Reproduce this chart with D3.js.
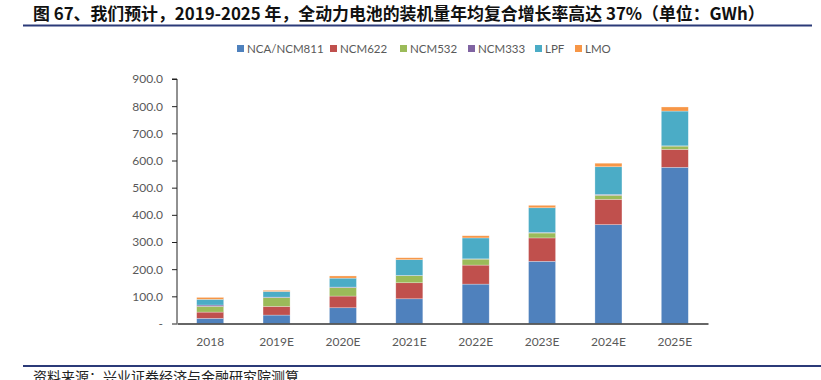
<!DOCTYPE html>
<html>
<head>
<meta charset="utf-8">
<script src="https://cdn.jsdelivr.net/npm/d3@7"></script>
<style>
  body { margin: 0; background: #fff; }
  svg { display: block; }
</style>
</head>
<body>
<script>
// data (GWh)
var years = ["2018", "2019E", "2020E", "2021E", "2022E", "2023E", "2024E", "2025E"];
var seriesNames = ["NCA/NCM811", "NCM622", "NCM532", "NCM333", "LPF", "LMO"];
var nca811 = [19, 31, 58, 91, 145, 229, 364, 575];
var ncm622 = [23, 32, 43, 59, 70, 86, 93, 66];
var ncm532 = [21, 32, 31, 26, 22, 18, 15, 12];
var ncm333 = [5, 2, 2, 1, 1, 2, 3, 1];
var lpf = [21, 21, 33, 58, 77, 91, 102, 128];
var lmo = [7, 4, 8, 7, 8, 9, 13, 15];
var yTicks = [0, 100, 200, 300, 400, 500, 600, 700, 800, 900];

var colors = ["#4f81bd", "#c0504d", "#9bbb59", "#8064a2", "#4bacc6", "#f79646"];
var seriesValues = [nca811, ncm622, ncm532, ncm333, lpf, lmo];

var width = 821,
    height = 380;

var svg = d3.select("body")
    .append("svg")
    .attr("width", width)
    .attr("height", height);

svg.append("rect")
    .attr("width", width)
    .attr("height", height)
    .attr("fill", "#fff");

// title + rule
var title = svg.append("text")
    .attr("x", 33)
    .attr("y", 20)
    .attr("font-family", "'Noto Sans CJK SC', sans-serif")
    .attr("font-weight", "bold")
    .attr("font-size", 16)
    .attr("fill", "#111")
    .text("图 67、我们预计，2019-2025 年，全动力电池的装机量年均复合增长率高达 37%（单位：GWh）");
// stretch the font so the title ends where the reference one does (~x=765)
var tw = title.node().getComputedTextLength();
title.attr("font-size", 16 * 732 / tw);

svg.append("line")
    .attr("x1", 23).attr("x2", 812)
    .attr("y1", 25.5).attr("y2", 25.5)
    .attr("stroke", "#2b3a78")
    .attr("stroke-width", 2);

// footer
svg.append("line")
    .attr("x1", 23).attr("x2", 821)
    .attr("y1", 366).attr("y2", 366)
    .attr("stroke", "#2b3a78")
    .attr("stroke-width", 2);

svg.append("text")
    .attr("x", 33)
    .attr("y", 382)
    .attr("font-family", "'Noto Sans CJK SC', sans-serif")
    .attr("font-size", 14)
    .attr("fill", "#222")
    .text("资料来源：兴业证券经济与金融研究院测算");

// scales
var x = d3.scaleBand()
    .domain(years)
    .range([177, 708])
    .paddingInner(0.593)
    .paddingOuter(0.2965);

var y = d3.scaleLinear()
    .domain([0, 900])
    .range([323.5, 79]);

// stacked data
var table = years.map(function (yr, i) {
    var row = { year: yr };
    seriesNames.forEach(function (s, j) { row[s] = seriesValues[j][i]; });
    return row;
});
var stacked = d3.stack().keys(seriesNames)(table);

var bars = svg.append("g");
bars.selectAll("g")
    .data(stacked)
    .enter().append("g")
    .attr("fill", function (d, i) { return colors[i]; })
    .selectAll("rect")
    .data(function (d) { return d; })
    .enter().append("rect")
    .attr("x", function (d) { return x(d.data.year); })
    .attr("width", x.bandwidth())
    .attr("y", function (d) { return y(d[1]); })
    .attr("height", function (d) { return y(d[0]) - y(d[1]); })
    .attr("stroke", "#fff")
    .attr("stroke-opacity", 0.45)
    .attr("stroke-width", 0.6);

// y axis
var yAxis = d3.axisLeft(y)
    .tickValues(yTicks)
    .tickSize(5)
    .tickPadding(9)
    .tickFormat(function (d) { return d === 0 ? "-" : d3.format(".1f")(d); });

var gy = svg.append("g")
    .attr("transform", "translate(177,0)")
    .call(yAxis);
gy.select(".domain").attr("stroke", "#222").attr("d", "M-5,79H0V323.5");
gy.selectAll(".tick line").attr("stroke", "#222");
gy.selectAll("text")
    .attr("font-family", "Lato, sans-serif")
    .attr("font-size", 12)
    .attr("fill", "#595959");

// x axis
var xAxis = d3.axisBottom(x).tickSize(0).tickPadding(14);
var gx = svg.append("g")
    .attr("transform", "translate(0,323.5)")
    .call(xAxis);
gx.select(".domain").attr("stroke", "#333").attr("stroke-width", 1.6);
gx.selectAll("text")
    .attr("font-family", "Lato, sans-serif")
    .attr("font-size", 12)
    .attr("fill", "#595959");

// legend, item offsets
var legendX = [0, 93, 163, 231, 298, 338];
var legend = svg.append("g").attr("transform", "translate(237,49)");
seriesNames.forEach(function (s, i) {
    var item = legend.append("g").attr("transform", "translate(" + legendX[i] + ",0)");
    item.append("rect")
        .attr("x", 0).attr("y", -4)
        .attr("width", 7).attr("height", 7)
        .attr("fill", colors[i]);
    item.append("text")
        .attr("x", 10).attr("y", 4)
        .attr("font-family", "Lato, sans-serif")
        .attr("font-size", 11.5)
        .attr("fill", "#595959")
        .text(s);
});
</script>
</body>
</html>
